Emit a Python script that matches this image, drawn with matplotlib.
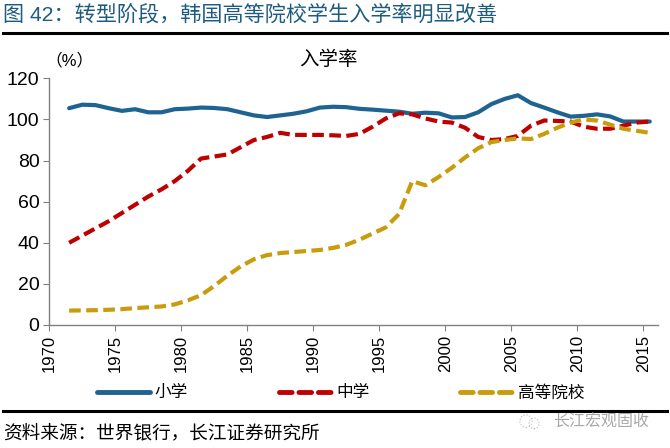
""" KOREA ENROLMENT RATES
    ---------------------
    Primary, secondary and tertiary gross enrolment, 1971-2015.
"""


import numpy as np
import matplotlib.pyplot as plt
from matplotlib.lines import Line2D
from matplotlib.patches import Ellipse


# -------------------------------------------------------------------------------
# 0. DATA
# -------------------------------------------------------------------------------


years = np.arange(1971, 2016)

primary = [105.5, 107.2, 107.0, 105.5, 104.2, 105.0, 103.5, 103.5, 105.0, 105.3,
           105.8, 105.6, 105.0, 103.5, 102.0, 101.2, 102.0, 102.8, 104.0, 105.8,
           106.2, 106.0, 105.2, 104.8, 104.3, 103.8, 102.8, 103.3, 103.0, 101.0,
           101.2, 103.5, 107.5, 110.0, 111.8, 108.0, 105.8, 103.5, 101.4, 101.8,
           102.5, 101.5, 99.0, 99.0, 99.0]

secondary = [40.0, 43.5, 47.0, 50.5, 54.5, 58.5, 62.5, 66.0, 70.0, 75.0,
             81.0, 82.0, 83.0, 86.5, 90.0, 91.5, 93.5, 92.5, 92.5, 92.5,
             92.3, 92.0, 93.0, 96.5, 100.5, 103.0, 102.5, 100.5, 99.0, 98.5,
             96.0, 91.5, 90.0, 90.5, 92.0, 97.0, 99.5, 99.3, 99.0, 96.5,
             95.5, 95.5, 97.0, 98.5, 99.0]

tertiary = [7.0, 7.1, 7.2, 7.4, 7.7, 8.2, 8.6, 9.0, 10.0, 12.0,
            14.5, 19.0, 24.0, 28.5, 32.0, 34.0, 35.0, 35.5, 36.0, 36.5,
            37.5, 39.0, 41.5, 44.5, 47.5, 54.0, 70.0, 68.0, 72.0, 76.5,
            81.5, 86.0, 89.0, 90.0, 90.8, 90.5, 93.0, 96.0, 98.5, 100.0,
            99.5, 97.5, 95.5, 94.5, 93.5]

labels = ['小学', '中学', '高等院校']
colors = ['#1f6391', '#c00000', '#c99c0c']
xticks = np.arange(1970, 2016, 5)


# -------------------------------------------------------------------------------
# 1. PLOT
# -------------------------------------------------------------------------------


plt.rcParams['font.family'] = ['Liberation Sans', 'Noto Sans CJK SC']

fig = plt.figure(figsize=(6.7, 4.48), dpi=100)
ax = fig.add_axes([0.0736, 0.2746, 0.908, 0.5504])

x = years + 0.5
ax.plot(x, primary, color=colors[0], lw=3, solid_joinstyle='round', solid_capstyle='round')
ax.plot(x, secondary, color=colors[1], lw=3, dashes=(2.8, 1.3), dash_joinstyle='round')
ax.plot(x, tertiary, color=colors[2], lw=3, dashes=(2.8, 1.3), dash_joinstyle='round')

ax.set_xlim(1970, 2016.1)
ax.set_ylim(0, 120)
ax.set_xticks(xticks)
ax.set_xticklabels([str(t) for t in xticks], rotation=90, fontsize=12)
ax.set_yticks(range(0, 121, 20))
ax.tick_params(axis='y', labelsize=14, length=4, color='#808080', pad=3)
ax.tick_params(axis='x', length=4, color='#808080', pad=3)

for side in ['top', 'right']:
    ax.spines[side].set_visible(False)
for side in ['left', 'bottom']:
    ax.spines[side].set_color('#808080')
    ax.spines[side].set_linewidth(1)


# Titles and notes

fig.text(0.005, 0.967, '图 42：转型阶段，韩国高等院校学生入学率明显改善',
         fontsize=15.2, color='#1d5c80', va='center', ha='left')
fig.add_artist(Line2D([0.005, 0.995], [0.926, 0.926], color='black', lw=2.2))
fig.text(0.068, 0.864, '（%）', fontsize=12, va='center', ha='left')
fig.text(0.49, 0.866, '入学率', fontsize=14, va='center', ha='center')


# Legend

legend_x = [0.145, 0.416, 0.687]
for lx, lab, col, style in zip(legend_x, labels, colors, ['solid', 'dash', 'dash']):
    if style == 'solid':
        ln = Line2D([lx, lx + 0.079], [0.125, 0.125], color=col, lw=3.5, solid_capstyle='round')
    else:
        ln = Line2D([lx, lx + 0.079], [0.125, 0.125], color=col, lw=3.5,
                    dashes=(2.6, 1.4), dash_capstyle='round')
    fig.add_artist(ln)
    fig.text(lx + 0.086, 0.123, lab, fontsize=12, va='center', ha='left')

fig.add_artist(Line2D([0.005, 0.995], [0.083, 0.083], color='black', lw=2.2))
fig.text(0.005, 0.033, '资料来源：世界银行，长江证券研究所', fontsize=13.4, va='center', ha='left')


# Watermark

fig.add_artist(Ellipse((0.785, 0.06), 0.018, 0.028, fill=False, ec='#b8b8b8', lw=0.8, ls=':'))
fig.add_artist(Ellipse((0.797, 0.055), 0.015, 0.024, fill=False, ec='#b8b8b8', lw=0.8, ls=':'))
fig.text(0.825, 0.058, '长江宏观固收', fontsize=11.5, color='#a8a8a8', va='center', ha='left')

plt.savefig('out.png', dpi=100)
